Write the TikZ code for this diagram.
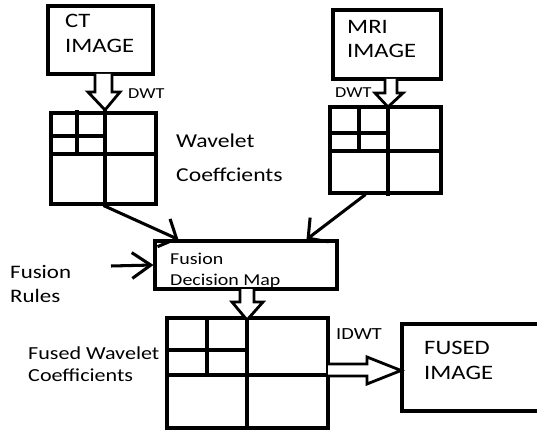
\documentclass[tikz,border=0pt]{standalone}
\usepackage{fontspec}
\setmainfont[FakeStretch=1.2]{Carlito}
\usetikzlibrary{arrows.meta}

\tikzset{
  box/.style={draw, line width=2.6pt, inner sep=0pt},
  gridline/.style={line width=2.6pt},
  hollow/.style={draw, line width=2.4pt, line join=miter, fill=white},
  conn/.style={line width=2.6pt, -{Straight Barb[length=12pt,width=26pt]}},
  rulearrow/.style={line width=2.6pt, -{Straight Barb[length=16pt,width=22pt]}},
  lbl/.style={inner sep=0pt, anchor=base west, align=left},
}

\begin{document}
\begin{tikzpicture}[x=0.03cm, y=-0.03cm]
      \useasboundingbox (0,0) rectangle (537,430) ;
      \clip (0,0) rectangle (537,430) ;
      % image boxes
      \node[box, minimum width=3.15cm, minimum height=2.04cm] (ct) at (100.5,40) {} ;
      \node[box, minimum width=3.24cm, minimum height=2.07cm] (mri) at (387,44.5) {} ;
      \node[box, minimum width=5.46cm, minimum height=1.44cm] (dec) at (246,265) {} ;
      \node[box, minimum width=4.68cm, minimum height=2.61cm] (fusedimg) at (480,367.5) {} ;
      % wavelet grids
      \node[box, minimum width=3.15cm, minimum height=2.73cm] (ctw) at (103.5,158.5) {} ;
      \draw[gridline] (105,110)--(105,204) (51,154)--(158,154) (77,110)--(77,155) (51,136)--(105,136) ;
      \node[box, minimum width=3.33cm, minimum height=2.58cm] (mriw) at (385.5,150) {} ;
      \draw[gridline] (388,107)--(388,196) (328,151)--(443,151) (359,107)--(359,151) (330,133)--(388,133) ;
      \node[box, minimum width=4.83cm, minimum height=3.3cm] (fusedw) at (247.5,373) {} ;
      \draw[gridline] (247,318)--(247,428) (167,375)--(328,375) (207,318)--(207,374) (167,350)--(247,350) ;
      % hollow arrows
      \draw[hollow] (95,74)--(95,92)--(88,92)--(105,110)--(120,92)--(112,92)--(112,74) ;
      \draw[hollow] (385,79)--(385,93)--(375,93)--(388,107)--(403,93)--(397,93)--(397,79) ;
      \draw[hollow] (240,289)--(240,302)--(232,302)--(247,320)--(263,302)--(254,302)--(254,289) ;
      \draw[hollow] (328,364)--(367,364)--(367,357)--(401,370.5)--(367,384)--(367,376)--(328,376) ;
      % connectors
      \draw[conn] (ctw.south) -- ([xshift=0.75cm]dec.north west) ;
      \draw[conn] ([xshift=-0.6cm]mriw.south) -- ([xshift=-0.96cm]dec.north east) ;
      \coordinate (rulesin) at (111,266) ;
      \draw[rulearrow] (rulesin) -- (dec.west) ;
      % texts (anchored at the last line)
      \node[lbl, font=\fontsize{17.5}{22}\selectfont] (cttxt) at (65,53) {CT\\IMAGE} ;
      \node[lbl, font=\fontsize{17.5}{21}\selectfont] (mritxt) at (347,58) {MRI\\IMAGE} ;
      \node[lbl, font=\fontsize{17.5}{20.5}\selectfont] (fusedtxt) at (424,379) {FUSED\\IMAGE} ;
      \node[lbl, font=\fontsize{13}{15}\selectfont] (dwtct) at (128,99) {DWT} ;
      \node[lbl, font=\fontsize{13}{15}\selectfont] (dwtmri) at (335,98) {DWT} ;
      \node[lbl, font=\fontsize{14.5}{17}\selectfont] (idwt) at (336,339) {IDWT} ;
      \node[lbl, font=\fontsize{16.8}{29.8}\selectfont] (wavtxt) at (176,182) {Wavelet\\Coeffcients} ;
      \node[lbl, font=\fontsize{14.2}{18}\selectfont] (dectxt) at (170,286) {Fusion\\Decision Map} ;
      \node[lbl, font=\fontsize{16.3}{20.4}\selectfont] (rulestxt) at (10,302) {Fusion\\Rules} ;
      \node[lbl, font=\fontsize{15.7}{18.7}\selectfont] (fwtxt) at (28,381) {Fused Wavelet\\Coefficients} ;
\end{tikzpicture}
\end{document}
